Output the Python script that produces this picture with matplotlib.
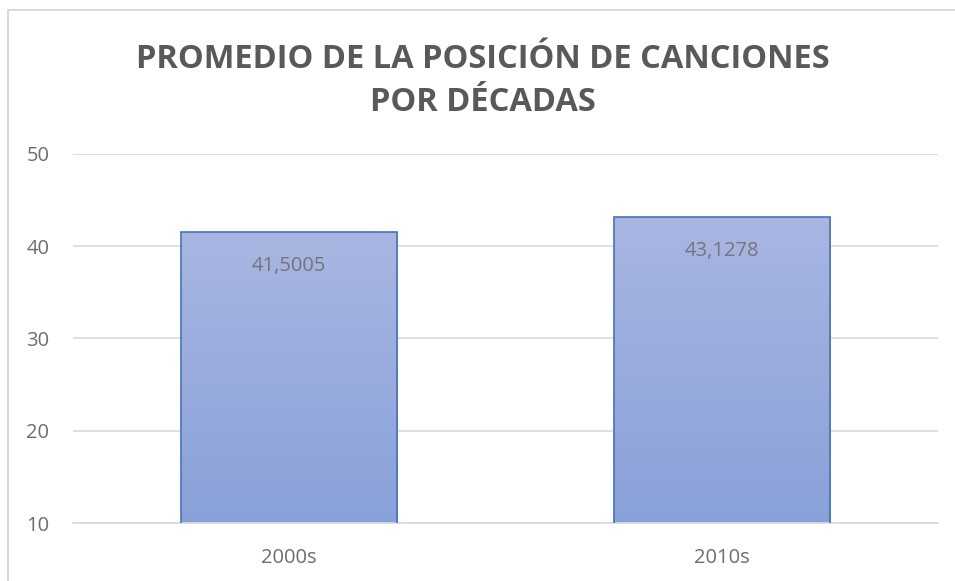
import numpy as np
import matplotlib.pyplot as plt
from matplotlib.patches import Rectangle
from matplotlib.colors import LinearSegmentedColormap

decadas = ['2000s', '2010s']
promedio = [41.5005, 43.1278]
etiquetas = ['41,5005', '43,1278']
yticks = [10, 20, 30, 40, 50]

plt.rcParams['font.family'] = ['Open Sans', 'DejaVu Sans']

fig = plt.figure(figsize=(9.55, 5.81), dpi=100)
ax = fig.add_axes([0.0764, 0.0998, 0.9058, 0.6352])

# marco del gráfico (cortado a la derecha y abajo)
fig.patches.append(Rectangle((8 / 955, -0.1), 1.2, 1 - 10 / 581 + 0.1,
                             transform=fig.transFigure, fill=False,
                             edgecolor='#d9d9d9', linewidth=1.5))

x = np.arange(len(decadas))
bars = ax.bar(x, promedio, width=0.5, bottom=0, color='none',
              edgecolor='#4472c4', linewidth=1.2, zorder=3)

# degradado vertical dentro de cada barra
cmap = LinearSegmentedColormap.from_list('grad', ['#89a1d9', '#a8b6e1'])
grad = np.linspace(0, 1, 256).reshape(-1, 1)
for b in bars:
    x0, w, h = b.get_x(), b.get_width(), b.get_height()
    im = ax.imshow(grad, extent=[x0, x0 + w, 10, h], origin='lower',
                   cmap=cmap, aspect='auto', zorder=2)
    im.set_clip_path(b)

for xi, v, t in zip(x, promedio, etiquetas):
    ax.annotate(t, (xi, v), xytext=(0, -24), textcoords='offset points',
                ha='center', va='center', fontsize=14.5, color='#767676')

ax.set_xlim(-0.5, 1.5)
ax.set_ylim(10, 50)
ax.set_yticks(yticks)
ax.set_xticks(x)
ax.set_xticklabels(decadas)
ax.grid(axis='y', color='#d9d9d9', linewidth=1.2, zorder=0)
ax.set_axisbelow(True)
for s in ['top', 'right', 'left']:
    ax.spines[s].set_visible(False)
ax.spines['bottom'].set_color('#d9d9d9')
ax.spines['bottom'].set_linewidth(1.2)
ax.tick_params(axis='both', length=0, labelsize=14.5, labelcolor='#6d6d6d')
ax.tick_params(axis='y', pad=17)
ax.tick_params(axis='x', pad=18)

fig.text(0.5055, 1 - 81 / 581, 'PROMEDIO DE LA POSICIÓN DE CANCIONES\nPOR DÉCADAS',
         ha='center', va='center', fontsize=23.5, fontweight='bold',
         color='#595959', linespacing=1.38)

fig.savefig('out.png', dpi=100)
